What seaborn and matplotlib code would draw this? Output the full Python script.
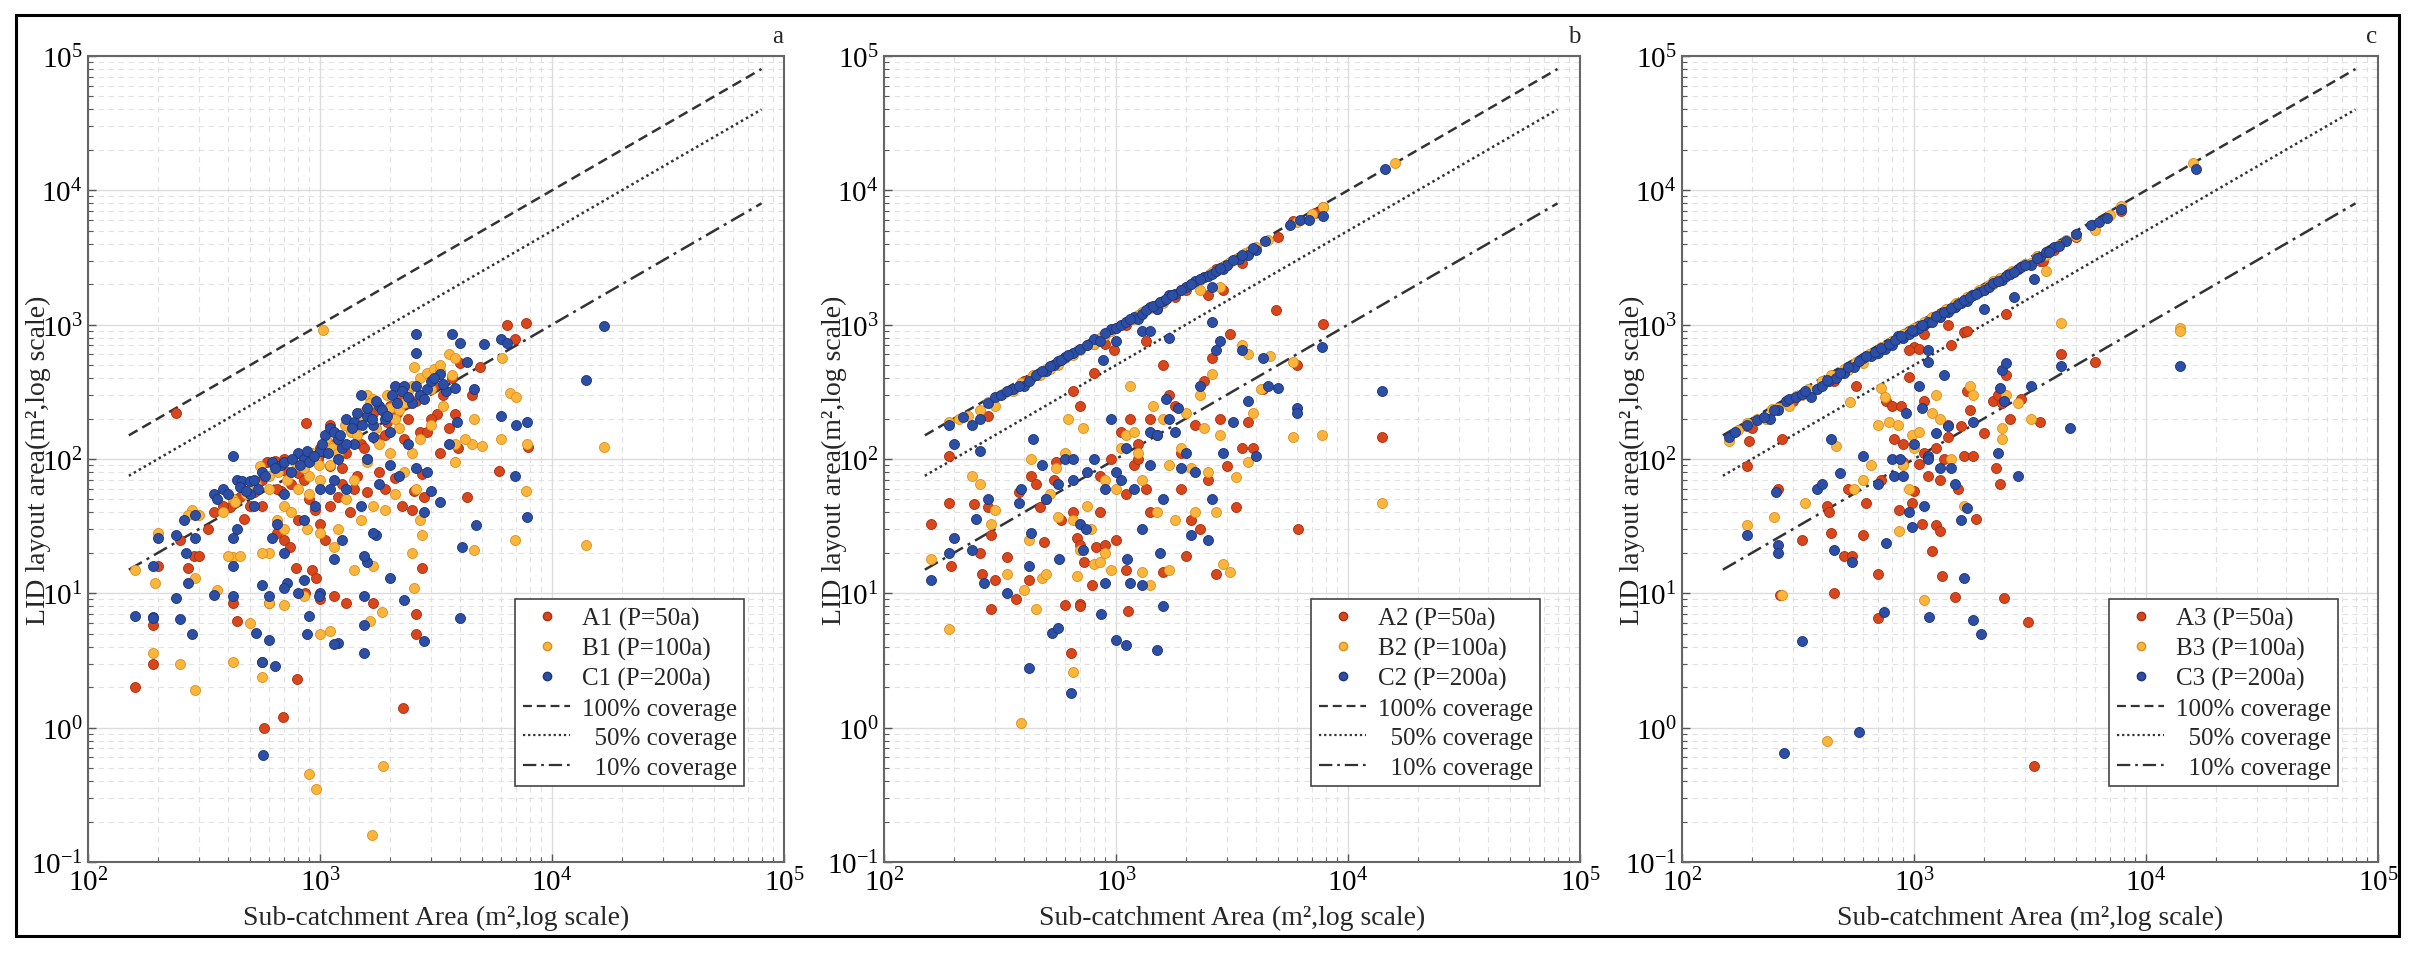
import numpy as np
import pandas as pd
import matplotlib
matplotlib.use("Agg")
import matplotlib.pyplot as plt
from matplotlib.lines import Line2D
from matplotlib.patches import Rectangle
from matplotlib.ticker import LogLocator, NullFormatter
import seaborn as sns

# ---------------- data ----------------
# Panel a
A1_x = [240, 870, 160, 190, 190, 575, 695, 795, 2270, 6400, 7700, 6900, 4900, 4500, 4300, 5900, 7900, 2600, 2600, 2750,
        2750, 2550, 3950, 3800, 3600, 3200, 3000, 2700, 2300, 2100, 1800, 1600, 1400, 1200, 1100, 1000, 900, 800, 700, 740,
        790, 860, 920, 960, 1000, 1150, 1300, 1700, 600, 420, 440, 560, 270, 285, 300, 410, 470, 560, 520, 680,
        590, 640, 700, 800, 1100, 1300, 1500, 1700, 1900, 2000, 2200, 2400, 2600, 2900, 3400, 3700, 4000, 3100, 450, 380,
        330, 250, 200, 1250, 1450, 650, 750, 950, 1050, 1350, 2250, 2500, 1900, 1600, 2800, 3300, 1100, 1000,
        350, 420, 500, 560, 650, 720, 850, 980, 1150, 1250, 1400, 1550, 1750, 1950, 2150, 2400, 2700]
A1_y = [220, 185, 2.0, 3.0, 5.8, 1.0, 1.2, 2.3, 1.4, 1000, 1030, 780, 480, 300, 52, 82, 122, 7.0, 5.0, 15.5,
        77, 58, 120, 215, 170, 215, 200, 160, 140, 72, 80, 57, 60, 52, 45, 33, 50, 35, 25, 22,
        15.5, 10, 15, 13, 9, 9.5, 8.5, 8.5, 8.5, 8.5, 6.2, 3.1, 15.5, 19, 19, 44, 36, 45, 57, 58,
        95, 97, 100, 78, 180, 110, 130, 220, 150, 250, 280, 200, 270, 160, 300, 400, 520, 350, 52, 45,
        30, 25, 16, 65, 75, 28, 65, 42, 25, 40, 45, 42, 60, 100, 52, 110, 88, 120,
        40, 50, 45, 70, 60, 80, 70, 100, 130, 85, 160, 120, 140, 190, 220, 260, 300]

B1_x = [1030, 16800, 14000, 6900, 4600, 7700, 7800, 6600, 7000, 6100, 6000, 4600, 4500, 5000, 3800, 900, 960, 1860, 1680, 190,
        195, 160, 250, 290, 420, 500, 560, 600, 700, 850, 1000, 1100, 1650, 1850, 2550, 2500, 2750, 1400, 1700, 1150,
        600, 560, 420, 400, 450, 360, 290, 280, 270, 200, 300, 420, 500, 550, 600, 700, 800, 900, 950, 1000,
        1100, 1200, 1350, 1500, 1600, 1700, 1800, 2000, 2200, 2400, 2550, 2700, 2900, 3100, 3300, 3600, 3800, 3400, 3000, 2700,
        2500, 2300, 2100, 1900, 1700, 1500, 1300, 1200, 1000, 880, 700, 750, 650, 1100, 1600, 2000, 2600, 2700, 1400, 900,
        800, 3800, 4200, 2200, 1800,
        380, 430, 480, 530, 600, 660, 720, 780, 850, 920, 990, 1060, 1130, 1200, 1280, 1360, 1450, 1550, 1650, 1750,
        1850, 1950, 2100, 2300, 2500, 2700, 3000, 3300, 3700]
B1_y = [920, 122, 23, 25, 21, 58, 130, 310, 290, 560, 140, 200, 130, 125, 95, 0.45, 0.35, 0.52, 0.16, 3.6,
        12, 15, 3.0, 1.9, 3.1, 6.0, 2.4, 8.5, 8.2, 9.5, 5.0, 5.2, 6.2, 7.2, 11, 20, 27, 15, 16, 22,
        20, 20, 18.5, 19, 19, 10.5, 13, 42, 38, 28, 38, 50, 60, 88, 75, 45, 60, 55, 100, 70,
        125, 150, 170, 220, 300, 280, 250, 240, 230, 320, 480, 400, 440, 470, 450, 600, 560, 250, 180, 140,
        110, 80, 55, 42, 45, 35, 50, 30, 28, 30, 30, 40, 35, 90, 95, 110, 60, 35, 70, 75,
        90, 130, 140, 170, 130,
        40, 48, 55, 65, 60, 80, 70, 95, 85, 110, 90, 140, 120, 110, 180, 160, 150, 200, 260, 170,
        230, 300, 200, 260, 350, 300, 330, 500, 420]

C1_x = [16800, 14000, 7800, 7000, 6900, 7800, 6000, 6000, 6400, 5100, 4300, 4000, 3700, 2600, 2600, 4600, 4700, 4100, 4000, 3300,
        3000, 2800, 2300, 2000, 1750, 1700, 1600, 1550, 1550, 1550, 1550, 1200, 1150, 1000, 990, 880, 900, 850, 800, 720,
        700, 600, 600, 560, 640, 530, 560, 570, 420, 350, 280, 250, 240, 190, 190, 160, 190, 200, 240, 260,
        290, 290, 265, 270, 350, 380, 420, 440, 460, 500, 540, 560, 620, 680, 750, 800, 850, 900, 1000, 1050,
        1100, 1200, 1250, 1300, 1400, 1500, 1600, 1700, 1800, 1900, 2100, 2300, 2500, 2700, 2900, 3000, 3300, 3500, 3800, 3900,
        3600, 2900, 2600, 2200, 2000, 1800, 1500, 1300, 1150, 1000, 950, 850, 700, 650, 620, 700, 520, 440, 420, 420,
        500, 1200, 1400, 1600, 1100, 1700, 2000, 2400, 2800, 1250, 1150,
        360, 400, 450, 480, 520, 580, 640, 700, 760, 820, 880, 940, 1020, 1080, 1150, 1220, 1300, 1380, 1450, 1520,
        1600, 1680, 1750, 1850, 1950, 2050, 2150, 2250, 2400, 2600, 2800, 3100, 3400]
C1_y = [980, 390, 190, 180, 75, 37, 210, 780, 730, 720, 530, 730, 850, 850, 620, 330, 32, 22, 6.6, 48,
        58, 4.4, 8.9, 13, 27, 28, 17, 19, 9.5, 5.8, 3.6, 4.3, 4.2, 10, 9.5, 5.0, 6.8, 12.5, 10, 12,
        11, 9.6, 4.5, 3.1, 2.9, 5.1, 11.5, 0.63, 9.6, 9.8, 5.0, 6.4, 9.3, 6.7, 6.5, 6.8, 16, 26, 27, 35,
        26, 38, 20, 12, 55, 60, 105, 70, 68, 68, 60, 80, 95, 90, 80, 110, 100, 95, 115, 150,
        170, 140, 120, 200, 190, 300, 210, 180, 250, 200, 350, 350, 260, 300, 330, 380, 430, 320, 340, 190,
        130, 80, 85, 75, 90, 65, 45, 60, 70, 60, 45, 35, 55, 33, 26, 20, 45, 30, 26, 16,
        55, 100, 130, 100, 60, 145, 160, 130, 40, 25, 18,
        50, 55, 62, 58, 70, 75, 85, 95, 100, 90, 115, 105, 130, 110, 160, 150, 130, 170, 220, 180,
        240, 200, 270, 230, 210, 300, 260, 320, 290, 350, 280, 400, 360]

# Panel b
A2_x = [190, 280, 400, 430, 460, 900, 980, 1100, 1300, 1350, 1500, 1800, 2000, 2500, 2700, 2900, 3500, 5000, 5800, 7200,
        7800, 3000, 160, 190, 195, 190, 245, 260, 265, 280, 290, 300, 290, 340, 370, 380, 420, 430, 470, 490,
        540, 580, 600, 640, 650, 680, 700, 700, 700, 730, 790, 820, 850, 900, 1000, 1100, 1130, 1050, 1150, 1250,
        1400, 1500, 1600, 1700, 1900, 2000, 2100, 2300, 2600, 2700, 2800, 3000, 3300, 3500, 3700, 3900, 4300, 4900, 6000, 6100,
        7800, 14000, 700, 800, 1200, 1350, 1100, 550, 450, 500, 1800, 2200, 1900, 2500, 1600, 1400, 950, 850, 1250, 2400,
        3100, 800, 650]
A2_y = [185, 210, 380, 400, 420, 720, 650, 1000, 1200, 760, 1300, 1600, 1800, 1650, 2600, 1800, 2900, 4500, 5900, 6800,
        7500, 2800, 33, 47, 16, 105, 46, 20, 14, 44, 27, 12.5, 7.6, 18.5, 9.0, 57, 12.5, 75, 44, 24,
        70, 35, 8.2, 3.6, 40, 26, 8.4, 8.0, 23, 17, 11.5, 22, 40, 23, 25, 15, 7.4, 160, 200, 130,
        200, 150, 500, 300, 110, 19, 35, 30, 560, 14, 200, 88, 44, 120, 190, 120, 330, 1280, 500, 30,
        1020, 145, 250, 440, 90, 60, 55, 95, 65, 50, 250, 180, 60, 70, 14.5, 40, 100, 75, 100, 380,
        850, 720, 320]

B2_x = [190, 230, 260, 300, 360, 420, 470, 520, 560, 600, 650, 700, 800, 900, 1000, 1100, 1200, 1300, 1450, 1600,
        1700, 1900, 2100, 2300, 2500, 2700, 2900, 3300, 3600, 4000, 4500, 6000, 7000, 7800, 16000, 2800, 2300,
        160, 190, 240, 260, 290, 300, 340, 390, 400, 420, 430, 450, 480, 500, 520, 560, 600, 620, 650, 680,
        700, 720, 750, 780, 800, 850, 900, 950, 1000, 1050, 1100, 1150, 1200, 1300, 1400, 1450, 1500, 1600, 1700, 1800,
        1900, 2000, 2100, 2300, 2500, 2600, 2700, 2900, 3100, 3300, 3500, 3700, 3900, 4200, 4600, 5800, 7700, 14000, 5800, 3700,
        2800, 2400, 1700, 1300, 900, 650, 550, 2200, 1250,
        210, 280, 330, 390, 440, 500, 580, 750, 850, 950, 1150, 1250, 1400, 1550, 1800, 2000, 2200, 2400, 2600, 3100, 3800]
B2_y = [190, 210, 230, 250, 320, 380, 420, 470, 500, 560, 590, 650, 720, 840, 950, 1050, 1100, 1250, 1380, 1450,
        1600, 1800, 2000, 2150, 2300, 2500, 2700, 3100, 3400, 3800, 4300, 5800, 6700, 7500, 16000, 1900, 1800,
        18, 5.4, 75, 65, 33, 42, 14, 1.08, 10.5, 25, 100, 7.6, 13, 14, 55, 37, 110, 200, 2.6, 13.5,
        21, 170, 45, 30, 16.5, 17, 20, 15, 60, 120, 150, 350, 160, 14.5, 11.5, 250, 40, 200, 15, 35,
        120, 220, 85, 300, 80, 430, 40, 16.5, 14.3, 74, 700, 600, 220, 330, 580, 145, 152, 47, 530, 95,
        150, 170, 90, 70, 70, 35, 85, 40, 110,
        200, 265, 310, 370, 420, 470, 550, 710, 800, 900, 1090, 1180, 1330, 1470, 1700, 1900, 2080, 2280, 2470, 2950, 3600]

C2_x = [190, 200, 240, 260, 280, 300, 360, 400, 420, 500, 540, 560, 600, 650, 800, 850, 950, 1000, 1050, 1100,
        1200, 1250, 1300, 1400, 1500, 1600, 1700, 1800, 2000, 2200, 2400, 2500, 2600, 2700, 2900, 3000, 3400, 3700, 4000, 4400,
        5600, 6200, 6800, 7800, 14500, 1300, 1400, 2600, 1700, 1000, 880,
        160, 190, 200, 240, 250, 260, 270, 280, 340, 380, 390, 420, 420, 430, 440, 480, 500, 530, 560, 570,
        600, 640, 650, 700, 720, 740, 800, 860, 900, 950, 1000, 1050, 1100, 1120, 1150, 1300, 1400, 1500, 1550, 1600,
        1650, 1700, 1800, 2000, 2100, 2300, 2500, 2600, 2700, 2800, 2900, 3200, 3500, 3700, 4000, 4300, 4500, 5000, 6000, 6000,
        7700, 14000, 1400, 1200, 900, 750, 1100, 1900, 2200, 2600, 1600, 1300, 650, 560, 1500, 1000, 1850,
        220, 320, 340, 380, 450, 480, 520, 580, 620, 700, 750, 900, 1150, 1350, 1450, 1550, 1650, 1750, 1900, 2100,
        2300, 2800, 3200, 3500, 3900]
C2_y = [180, 130, 180, 200, 260, 290, 330, 350, 380, 450, 500, 540, 570, 620, 780, 750, 930, 950, 1000, 1050,
        1150, 1100, 1200, 1350, 1300, 1500, 1650, 1700, 1900, 2100, 2250, 2300, 2400, 2500, 2600, 2800, 3100, 3300, 3600, 4200,
        5500, 6000, 6000, 6400, 14500, 900, 900, 1900, 800, 750, 550,
        12.5, 20, 26, 21, 36, 115, 12, 50, 10, 47, 60, 2.8, 16, 28, 140, 90, 50, 5.1, 5.5, 18,
        100, 1.8, 70, 33, 21, 30, 100, 7.0, 12, 200, 4.5, 70, 4.1, 18, 12, 11.5, 160, 3.8, 20, 8.0,
        280, 200, 160, 110, 27, 350, 25, 1050, 650, 750, 110, 190, 650, 270, 105, 560, 350, 340, 240, 220,
        680, 320, 90, 60, 60, 80, 120, 85, 80, 50, 50, 30, 100, 65, 150, 80, 240,
        205, 300, 320, 350, 420, 450, 490, 550, 590, 660, 710, 860, 1100, 1280, 1380, 1470, 1560, 1660, 1800, 2000,
        2180, 2650, 3050, 3300, 3700]

# Panel c
A3_x = [190, 200, 260, 300, 400, 450, 550, 650, 750, 850, 950, 1050, 1150, 1300, 1500, 1700, 2000, 2300, 2600, 3000,
        3500, 4000, 5000, 6000, 7800, 1100, 1000, 950, 1050, 1400, 1650, 1700, 2500, 3600,
        190, 195, 260, 265, 270, 330, 420, 430, 440, 450, 500, 520, 540, 560, 600, 620, 700, 700, 720, 760,
        800, 820, 860, 880, 900, 950, 980, 1000, 1050, 1080, 1100, 1150, 1200, 1250, 1300, 1300, 1320, 1350, 1400, 1450,
        1500, 1550, 1600, 1650, 1700, 1750, 1800, 1850, 2000, 2200, 2250, 2300, 2350, 2400, 2450, 2500, 2600, 2900, 3100, 3300,
        3500, 4300, 6000, 1250, 1100, 1400, 900]
A3_y = [175, 170, 240, 270, 360, 380, 500, 600, 680, 800, 900, 980, 1050, 1200, 1350, 1550, 1800, 2100, 2400, 2800,
        3000, 3600, 4500, 5500, 7000, 850, 680, 650, 660, 1000, 880, 900, 1200, 3000,
        88, 135, 60, 9.8, 140, 25, 45, 40, 28, 10, 19, 60, 19, 350, 27, 47, 6.6, 14, 70, 270,
        250, 140, 42, 250, 95, 410, 47, 58, 92, 33, 270, 75, 20.5, 32, 70, 29, 13.5, 100, 145, 700,
        9.4, 60, 175, 105, 320, 230, 105, 36, 155, 270, 85, 300, 65, 260, 9.2, 420, 200, 280, 6.1, 0.52,
        190, 600, 530, 120, 110, 180, 130]

B3_x = [160, 190, 230, 260, 290, 330, 380, 420, 470, 520, 600, 680, 750, 850, 950, 1050, 1150, 1300, 1450, 1600,
        1800, 2000, 2200, 2500, 2800, 3200, 3700, 4200, 5000, 6000, 7000, 7800, 16000, 14000, 14000, 4300, 3700, 2200,
        190, 250, 270, 340, 420, 460, 530, 550, 600, 650, 700, 720, 750, 780, 850, 860, 900, 950, 980, 1000,
        1050, 1100, 1300, 1450, 1650, 1750, 1800, 2400, 2400, 2500, 2800, 3200, 1200, 1250,
        175, 210, 245, 310, 350, 400, 440, 500, 560, 640, 720, 800, 900, 1000, 1100, 1200, 1380, 1520, 1700, 1900,
        2100, 2350, 2650, 3000, 3400, 4500]
B3_y = [135, 185, 200, 240, 250, 300, 330, 380, 420, 460, 520, 600, 680, 780, 880, 960, 1050, 1150, 1300, 1450,
        1650, 1850, 2000, 2300, 2600, 2900, 3300, 3900, 4600, 5100, 6500, 7600, 16000, 940, 900, 1030, 2500, 2100,
        32, 37, 9.8, 47, 0.8, 125, 265, 60, 70, 90, 180, 340, 290, 190, 180, 29, 90, 60, 150, 120,
        160, 8.9, 200, 100, 45, 350, 300, 170, 140, 300, 260, 200, 220, 300,
        165, 200, 235, 295, 330, 380, 420, 470, 530, 610, 680, 760, 850, 950, 1040, 1140, 1310, 1440, 1610, 1800,
        1990, 2230, 2520, 2850, 3230, 4280]

C3_x = [160, 190, 240, 260, 280, 290, 360, 380, 400, 430, 460, 500, 550, 600, 650, 700, 750, 800, 850, 900,
        950, 1000, 1050, 1100, 1150, 1200, 1300, 1400, 1500, 1600, 1700, 1800, 1900, 2000, 2100, 2200, 2400, 2500, 2600, 2800,
        2900, 3200, 3500, 3700, 4000, 4500, 5000, 5800, 6300, 6800, 7800, 16500, 3300, 2700, 2000, 1150, 1150,
        190, 255, 260, 260, 275, 330, 380, 400, 440, 450, 480, 540, 580, 600, 700, 740, 760, 800, 820, 870,
        900, 920, 950, 980, 1000, 1050, 1080, 1100, 1150, 1160, 1150, 1250, 1300, 1350, 1400, 1450, 1500, 1600, 1650, 1700,
        1800, 1800, 1950, 2300, 2350, 2400, 2450, 2500, 2800, 3200, 4700, 4300, 14000,
        170, 210, 225, 250, 310, 330, 340, 420, 480, 520, 580, 620, 680, 720, 780, 830, 880, 980, 1080, 1250,
        1350, 1450, 1550, 1650, 1750, 1850, 2300, 2700, 3000, 3400, 3800, 4200]
C3_y = [145, 180, 200, 230, 270, 280, 290, 330, 350, 380, 400, 440, 480, 560, 580, 620, 660, 700, 820, 800,
        850, 900, 950, 1000, 1050, 1050, 1150, 1250, 1350, 1450, 1500, 1650, 1750, 1800, 1900, 2050, 2150, 2300, 2400, 2600,
        2700, 2800, 3200, 3500, 3800, 4200, 4700, 5500, 5800, 6200, 7200, 14500, 2200, 1600, 1300, 650, 530,
        27, 57, 23, 20, 0.65, 4.4, 60, 65, 140, 21, 78, 17, 0.93, 105, 65, 7.2, 23.5, 100, 75, 100,
        75, 220, 40, 31, 130, 350, 240, 45, 105, 6.7, 100, 155, 85, 420, 175, 85, 65, 35, 13, 43,
        190, 6.3, 5.0, 110, 340, 460, 270, 520, 75, 350, 170, 490, 490,
        160, 195, 205, 230, 290, 305, 320, 390, 440, 480, 540, 580, 630, 670, 720, 770, 820, 910, 1000, 1160,
        1250, 1340, 1430, 1520, 1620, 1700, 2120, 2480, 2760, 3130, 3500, 3870]

panels = [
    ("a", ["A1 (P=50a)", "B1 (P=100a)", "C1 (P=200a)"], [(A1_x, A1_y), (B1_x, B1_y), (C1_x, C1_y)]),
    ("b", ["A2 (P=50a)", "B2 (P=100a)", "C2 (P=200a)"], [(A2_x, A2_y), (B2_x, B2_y), (C2_x, C2_y)]),
    ("c", ["A3 (P=50a)", "B3 (P=100a)", "C3 (P=200a)"], [(A3_x, A3_y), (B3_x, B3_y), (C3_x, C3_y)]),
]

coverage_fracs = [1.0, 0.5, 0.1]
coverage_labels = ["100% coverage", "  50% coverage", "  10% coverage"]
coverage_x = [150, 80000]

# ---------------- style ----------------
sns.set_theme(style="white")
plt.rcParams["font.family"] = ["Liberation Serif", "DejaVu Serif"]
plt.rcParams["mathtext.fontset"] = "stix"

colors = ["#d8461b", "#fcb53b", "#2c4ea5"]
edge_colors = ["#a8300f", "#d98f1e", "#1c357a"]
line_styles = [(0, (4, 2.2)), (0, (1, 1.3)), (0, (6, 2.2, 1.2, 2.2))]

fig = plt.figure(figsize=(24.15, 9.54), dpi=100)
W, H = 2415, 954
lefts = [88, 884, 1682]
for (letter, labels, series), left in zip(panels, lefts):
    ax = fig.add_axes([left / W, 1 - 863 / H, 696 / W, 806 / H])
    ax.set_xscale("log")
    ax.set_yscale("log")
    ax.set_xlim(1e2, 1e5)
    ax.set_ylim(1e-1, 1e5)

    rows = []
    for lab, (xs, ys) in zip(labels, series):
        for xv, yv in zip(xs, ys):
            rows.append({"x": xv, "y": yv, "s": lab})
    df = pd.DataFrame(rows)
    for i, lab in enumerate(labels):
        sub = df[df["s"] == lab]
        sns.scatterplot(data=sub, x="x", y="y", ax=ax, color=colors[i], s=52,
                        edgecolor=edge_colors[i], linewidth=0.6, legend=False, zorder=3 + i)

    for frac, ls in zip(coverage_fracs, line_styles):
        ldf = pd.DataFrame({"x": coverage_x, "y": [frac * v for v in coverage_x]})
        sns.lineplot(data=ldf, x="x", y="y", ax=ax, color="#333333", lw=1.8,
                     linestyle=ls, zorder=2)

    ax.xaxis.set_major_locator(LogLocator(base=10, numticks=10))
    ax.yaxis.set_major_locator(LogLocator(base=10, numticks=10))
    ax.xaxis.set_minor_locator(LogLocator(base=10, subs=np.arange(2, 10), numticks=20))
    ax.yaxis.set_minor_locator(LogLocator(base=10, subs=np.arange(2, 10), numticks=20))
    ax.xaxis.set_minor_formatter(NullFormatter())
    ax.yaxis.set_minor_formatter(NullFormatter())

    ax.grid(True, which="major", color="#dcdcdc", lw=1.0, ls="-", zorder=0)
    ax.grid(True, which="minor", color="#e2e2e2", lw=0.8, ls=(0, (5, 4)), zorder=0)
    ax.set_axisbelow(True)

    ax.tick_params(which="both", direction="in", bottom=True, left=True, top=False, right=False,
                   colors="#555555", labelcolor="black")
    ax.tick_params(which="major", length=6, width=1.0, labelsize=21, pad=4)
    ax.tick_params(which="minor", length=3.5, width=0.8)
    for sp in ax.spines.values():
        sp.set_color("#666666")
        sp.set_linewidth(1.5)

    ax.set_xlabel("Sub-catchment Area (m²,log scale)", fontsize=20, labelpad=6)
    ax.set_ylabel("LID layout area(m²,log scale)", fontsize=20)
    ax.yaxis.set_label_coords(-0.053, 0.5)

    handles = [Line2D([], [], marker="o", ls="none", color=colors[i], markeredgecolor=edge_colors[i],
                      markersize=6, label=labels[i]) for i in range(3)]
    handles += [Line2D([], [], color="#333333", lw=1.6, ls=ls, label=cl)
                for ls, cl in zip(line_styles, coverage_labels)]
    leg = ax.legend(handles=handles, loc="lower right", bbox_to_anchor=(0.943, 0.094),
                    borderaxespad=0, fontsize=18, frameon=True, fancybox=False,
                    framealpha=1, edgecolor="#444444", handlelength=1.9, handletextpad=0.45,
                    labelspacing=0.28, borderpad=0.3)
    leg.get_frame().set_linewidth(1.2)

    fig.text((left + 690) / W, 1 - 37 / H, letter, fontsize=18, ha="center", va="center")

fig.patches.append(Rectangle((16 / W, 17 / H), (2399 - 16) / W, (937 - 16) / H,
                             transform=fig.transFigure, fill=False, edgecolor="black", lw=2.2))

fig.savefig("out.png", dpi=100)
